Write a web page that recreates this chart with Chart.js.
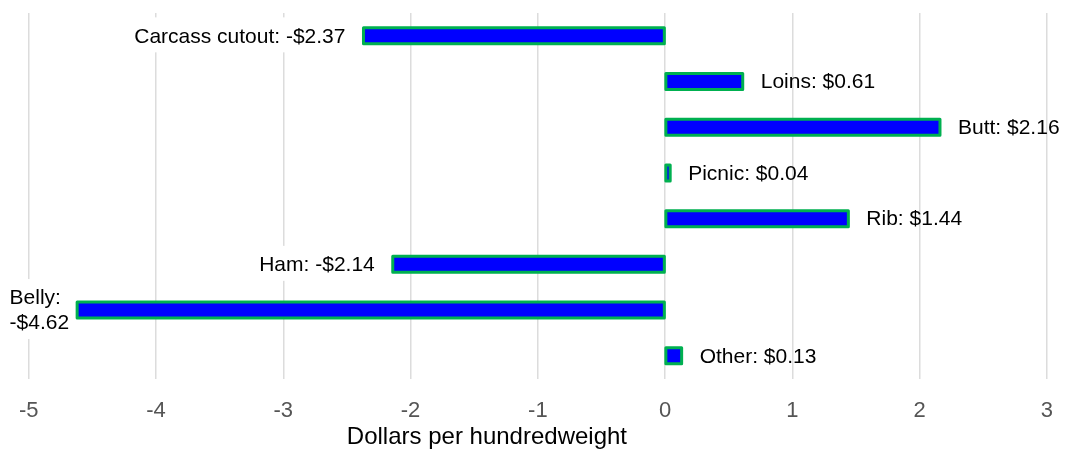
<!DOCTYPE html>
<html>
<head>
<meta charset="utf-8">
<script src="https://cdn.jsdelivr.net/npm/chart.js@4"></script>
<style>
  html, body { margin: 0; padding: 0; background: #fff; }
  #wrap { width: 1072px; height: 450px; }
</style>
</head>
<body>
<div id="wrap"><canvas id="myChart"></canvas></div>
<script>
const categories = ['Carcass cutout', 'Loins', 'Butt', 'Picnic', 'Rib', 'Ham', 'Belly', 'Other'];
const values = [-2.37, 0.61, 2.16, 0.04, 1.44, -2.14, -4.62, 0.13];
const xTicks = [-5, -4, -3, -2, -1, 0, 1, 2, 3];
const axisTitle = 'Dollars per hundredweight';

const FONT = '"Liberation Sans", Arial, sans-serif';
const GREEN = '#00b050';

function money(v) {
    return (v < 0 ? '-$' : '$') + Math.abs(v).toFixed(2);
}

// green outline centred on the bar edge (like ggplot), so thin bars still show
const barOutline = {
    id: 'barOutline',
    afterDatasetsDraw(chart) {
        const ctx = chart.ctx;
        ctx.save();
        ctx.strokeStyle = GREEN;
        ctx.lineWidth = 3;
        ctx.lineJoin = 'round';
        chart.getDatasetMeta(0).data.forEach(bar => {
            const x0 = Math.min(bar.x, bar.base);
            const w = Math.abs(bar.x - bar.base);
            ctx.strokeRect(x0, bar.y - bar.height / 2, w, bar.height);
        });
        ctx.restore();
    }
};

// labels next to each bar, negative ones get a white box behind them
const barLabels = {
    id: 'barLabels',
    afterDatasetsDraw(chart) {
        const ctx = chart.ctx;
        const meta = chart.getDatasetMeta(0);
        ctx.save();
        ctx.font = '21px ' + FONT;
        ctx.textBaseline = 'middle';
        ctx.textAlign = 'left';
        meta.data.forEach((bar, i) => {
            const v = values[i];
            const text = categories[i] + ': ' + money(v);
            const gap = 18;
            if (v >= 0) {
                ctx.fillStyle = '#000';
                ctx.fillText(text, bar.x + gap, bar.y + 1);
                return;
            }
            const w = ctx.measureText(text).width;
            let lines = [text];
            let right = bar.x - gap;
            if (right - w < 0) {
                lines = [categories[i] + ':', money(v)];
                right = bar.x - 8;
            }
            const widths = lines.map(l => ctx.measureText(l).width);
            const maxW = Math.max(...widths);
            const left = Math.max(7, right - maxW);
            const lh = 25;
            const top = bar.y - lines.length * lh / 2;
            ctx.fillStyle = '#fff';
            ctx.fillRect(left - 4, top - 6, maxW + 8, lines.length * lh + 10);
            ctx.fillStyle = '#000';
            lines.forEach((l, k) => {
                const x = lines.length > 1 ? left : right - widths[k];
                ctx.fillText(l, x, top + lh * k + lh / 2 + 1);
            });
        });
        ctx.restore();
    }
};

// axis title, placed under the plot
const xTitle = {
    id: 'xTitle',
    afterDraw(chart) {
        const ctx = chart.ctx;
        const xs = chart.scales.x;
        ctx.save();
        ctx.font = '24px ' + FONT;
        ctx.fillStyle = '#000';
        ctx.textAlign = 'center';
        ctx.textBaseline = 'middle';
        ctx.fillText(axisTitle, xs.getPixelForValue(-1.4), 437);
        ctx.restore();
    }
};

new Chart(document.getElementById('myChart'), {
    type: 'bar',
    data: {
        labels: categories,
        datasets: [{
            data: values,
            backgroundColor: '#0000ff',
            borderWidth: 0,
            barThickness: 16
        }]
    },
    options: {
        indexAxis: 'y',
        responsive: true,
        maintainAspectRatio: false,
        animation: false,
        layout: { padding: { left: 28, right: 25, top: 13, bottom: 7 } },
        plugins: {
            legend: { display: false },
            tooltip: { enabled: false }
        },
        scales: {
            x: {
                min: -5,
                max: 3,
                afterBuildTicks(axis) {
                    axis.ticks = xTicks.map(v => ({ value: v }));
                },
                grid: { color: '#dcdcdc', lineWidth: 1.5, drawTicks: false },
                border: { display: false },
                ticks: {
                    font: { family: FONT, size: 22 },
                    color: '#555',
                    padding: 19
                }
            },
            y: {
                display: false,
                grid: { display: false }
            }
        }
    },
    plugins: [barOutline, barLabels, xTitle]
});
</script>
</body>
</html>
